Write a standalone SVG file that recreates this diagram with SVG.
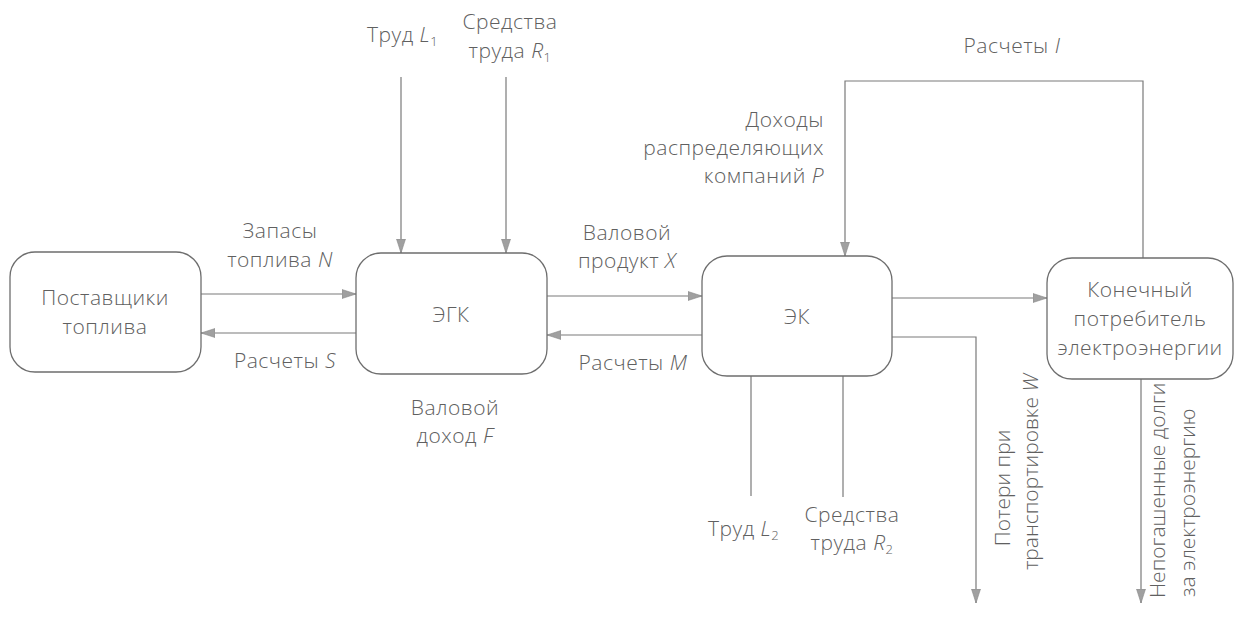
<svg xmlns="http://www.w3.org/2000/svg" width="1236" height="630" viewBox="0 0 1236 630">
  <style>
    text { font-family: "Open Sans", "Noto Sans", "DejaVu Sans", sans-serif; font-weight: 300; font-size: 21px; letter-spacing: 0.5px; fill: #606060; }
    .c { text-anchor: middle; }
    .e { text-anchor: end; }
    .v { font-style: italic; }
    .sub { font-size: 13px; }
    .rot { letter-spacing: 0; }
    .box { fill: #ffffff; stroke: #6e6e6e; stroke-width: 1.3; }
    .link { fill: none; stroke: #7a7a7a; stroke-width: 1.2; }
  </style>
  <defs>
    <marker id="arrow" markerUnits="userSpaceOnUse" markerWidth="15" markerHeight="11" refX="14" refY="5.5" orient="auto">
      <path d="M0,1 L14,5.5 L0,10 Z" fill="#a0a0a0" stroke="#8a8a8a" stroke-width="0.6"/>
    </marker>
  </defs>

  <!-- connectors -->
  <g id="connectors">
    <path class="link" d="M401,77 V253" marker-end="url(#arrow)"/>
    <path class="link" d="M506,77 V253" marker-end="url(#arrow)"/>
    <path class="link" d="M201,294 H356" marker-end="url(#arrow)"/>
    <path class="link" d="M356,333 H201" marker-end="url(#arrow)"/>
    <path class="link" d="M547,296 H702" marker-end="url(#arrow)"/>
    <path class="link" d="M702,335 H547" marker-end="url(#arrow)"/>
    <path class="link" d="M892,298 H1047" marker-end="url(#arrow)"/>
    <path class="link" d="M1143,258 V81 H845 V256" marker-end="url(#arrow)"/>
    <path class="link" d="M751,376 V496"/>
    <path class="link" d="M843,376 V497"/>
    <path class="link" d="M892,337 H976 V603" marker-end="url(#arrow)"/>
    <path class="link" d="M1141,379 V603" marker-end="url(#arrow)"/>
  </g>

  <!-- nodes -->
  <g id="suppliers">
    <rect class="box" x="10" y="252" width="191" height="120" rx="25"/>
    <text class="c" x="105" y="305">Поставщики</text>
    <text class="c" x="105" y="334">топлива</text>
  </g>
  <g id="egk">
    <rect class="box" x="356" y="253" width="191" height="121" rx="25"/>
    <text class="c" x="451" y="322">ЭГК</text>
  </g>
  <g id="ek">
    <rect class="box" x="702" y="256" width="190" height="120" rx="25"/>
    <text class="c" x="797" y="324">ЭК</text>
  </g>
  <g id="consumer">
    <rect class="box" x="1047" y="258" width="186" height="121" rx="25"/>
    <text class="c" x="1140" y="297">Конечный</text>
    <text class="c" x="1140" y="326">потребитель</text>
    <text class="c" x="1140" y="355">электроэнергии</text>
  </g>

  <!-- flow labels -->
  <g id="labels">
    <text x="367" y="42">Труд <tspan class="v">L</tspan><tspan class="sub" dy="4">1</tspan></text>
    <text class="c" x="510" y="29">Средства</text>
    <text class="c" x="510" y="58">труда <tspan class="v">R</tspan><tspan class="sub" dy="4">1</tspan></text>
    <text class="c" x="280" y="238">Запасы</text>
    <text class="c" x="280" y="267">топлива <tspan class="v">N</tspan></text>
    <text class="c" x="285" y="368">Расчеты <tspan class="v">S</tspan></text>
    <text class="c" x="455" y="415">Валовой</text>
    <text class="c" x="455" y="443">доход <tspan class="v">F</tspan></text>
    <text class="c" x="627" y="240">Валовой</text>
    <text class="c" x="627" y="268">продукт <tspan class="v">X</tspan></text>
    <text class="c" x="633" y="370">Расчеты <tspan class="v">M</tspan></text>
    <text class="e" x="824" y="127">Доходы</text>
    <text class="e" x="824" y="155">распределяющих</text>
    <text class="e" x="824" y="183">компаний <tspan class="v">P</tspan></text>
    <text class="c" x="1012" y="53">Расчеты <tspan class="v">I</tspan></text>
    <text x="708" y="536">Труд <tspan class="v">L</tspan><tspan class="sub" dy="4">2</tspan></text>
    <text class="c" x="852" y="522">Средства</text>
    <text class="c" x="852" y="550">труда <tspan class="v">R</tspan><tspan class="sub" dy="4">2</tspan></text>
    <text class="c rot" transform="translate(1010,488) rotate(-90)">Потери при</text>
    <text class="c rot" transform="translate(1038,472) rotate(-90)">транспортировке <tspan class="v">W</tspan></text>
    <text class="rot" transform="translate(1165,598) rotate(-90)">Непогашенные долги</text>
    <text class="rot" transform="translate(1195,597) rotate(-90)">за электроэнергию</text>
  </g>
</svg>
